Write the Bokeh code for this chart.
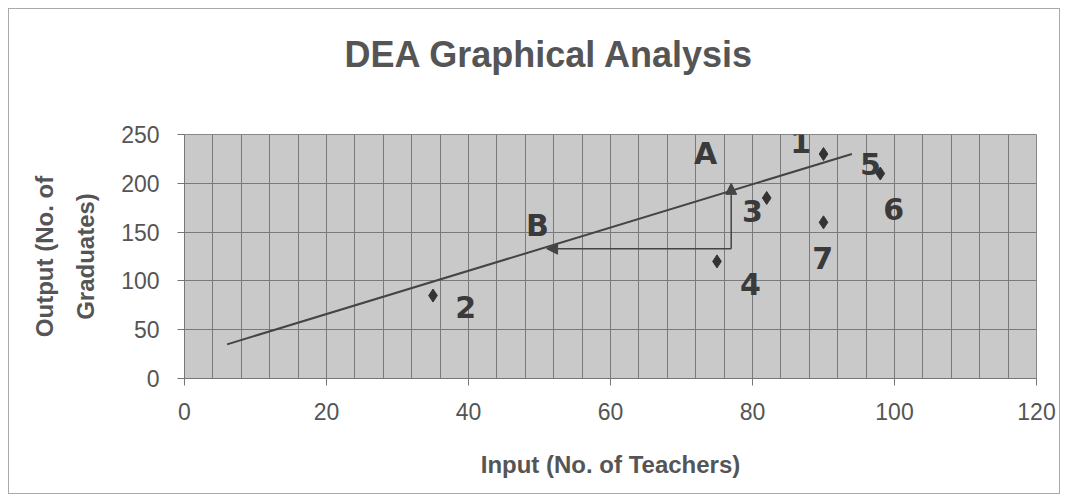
from bokeh.plotting import figure
from bokeh.models import Range1d, FixedTicker, Arrow, NormalHead, Label, LinearAxis
from bokeh.embed import file_html
from bokeh.resources import INLINE

# data
unit_x = [90, 35, 82, 75, 98, 90]
unit_y = [230, 85, 185, 120, 210, 160]
label_text = ["1", "2", "3", "4", "5", "6", "7", "A", "B"]
label_x = [86.8, 39.6, 80, 79.7, 96.6, 99.9, 89.9, 73.4, 49.7]
label_y = [242, 73, 172, 97, 220, 174, 123, 231, 157]
frontier_x = [6, 94]
frontier_y = [35, 230]
proj_start = (77, 133)
proj_up = (77, 200)
proj_left = (51, 133)
x_ticks = [0, 20, 40, 60, 80, 100, 120]
y_ticks = [0, 50, 100, 150, 200, 250]

TXT = "#555555"
p = figure(width=1052, height=486, output_backend="svg", toolbar_location=None,
           x_range=Range1d(0, 120), y_range=Range1d(0, 250),
           min_border_left=175, min_border_right=25, min_border_top=125, min_border_bottom=117)
p.styles = {"border": "1px solid #aaaaaa", "margin-left": "8px", "margin-top": "8px"}
p.background_fill_color = "#c9c9c9"
p.outline_line_color = "#888888"
p.outline_line_width = 1

p.title.text = "DEA Graphical Analysis"
p.title.align = "left"
p.title.offset = 160
p.title.standoff = 10
p.title.text_font = "Liberation Sans"
p.title.text_font_size = "36px"
p.title.text_font_style = "bold"
p.title.text_color = TXT

xax = p.below[0]
yax = p.left[0]
xax.ticker = FixedTicker(ticks=x_ticks)
yax.ticker = FixedTicker(ticks=y_ticks)
p.xgrid.ticker = FixedTicker(ticks=list(range(0, 121, 4)))
p.ygrid.ticker = FixedTicker(ticks=y_ticks)
for g in (p.xgrid, p.ygrid):
    g.grid_line_color = "#7a7a7a"
    g.grid_line_width = 1

for ax in (xax, yax):
    ax.axis_line_color = "#777777"
    ax.major_tick_line_color = "#777777"
    ax.minor_tick_line_color = None
    ax.major_tick_in = 0
    ax.major_tick_out = 7
    ax.major_label_text_font = "Liberation Sans"
    ax.major_label_text_font_size = "23px"
    ax.major_label_text_color = TXT
    ax.axis_label_text_font = "Liberation Sans"
    ax.axis_label_text_font_size = "24px"
    ax.axis_label_text_font_style = "bold"
    ax.axis_label_text_color = TXT
xax.major_label_standoff = 17
yax.major_label_standoff = 18
xax.axis_label = "Input (No. of Teachers)"
xax.axis_label_standoff = 28
yax.axis_label = "Graduates)"
yax.axis_label_standoff = 19

outer = LinearAxis(axis_label="Output (No. of", ticker=FixedTicker(ticks=[]),
                   axis_line_color=None, major_tick_line_color=None, minor_tick_line_color=None,
                   major_label_text_font_size="0px", axis_label_standoff=12,
                   axis_label_text_font="Liberation Sans", axis_label_text_font_size="24px",
                   axis_label_text_font_style="bold", axis_label_text_color=TXT)
p.add_layout(outer, "left")

# invisible spacer between the title and the plot area
spacer = LinearAxis(axis_label=" ", ticker=FixedTicker(ticks=[]),
                    axis_line_color=None, major_tick_line_color=None, minor_tick_line_color=None,
                    major_tick_out=0, major_label_text_font_size="0px", axis_label_standoff=43,
                    axis_label_text_font_size="8px", axis_label_text_color=None)
p.add_layout(spacer, "above")

p.line(frontier_x, frontier_y, line_color="#444444", line_width=2)
for end in (proj_up, proj_left):
    p.add_layout(Arrow(end=NormalHead(size=11, fill_color="#444444", line_color="#444444"),
                       x_start=proj_start[0], y_start=proj_start[1], x_end=end[0], y_end=end[1],
                       line_color="#444444", line_width=1.5))

p.scatter(unit_x, unit_y, marker="diamond", size=13, fill_color="#333333", line_color="#333333")

for t, lx, ly in zip(label_text, label_x, label_y):
    p.add_layout(Label(x=lx, y=ly, text=t, text_align="center", text_baseline="middle",
                       text_font="DejaVu Sans", text_font_style="bold", text_font_size="30px",
                       text_color="#3a3a3a"))

open("out.html", "w").write(file_html(p, INLINE))
